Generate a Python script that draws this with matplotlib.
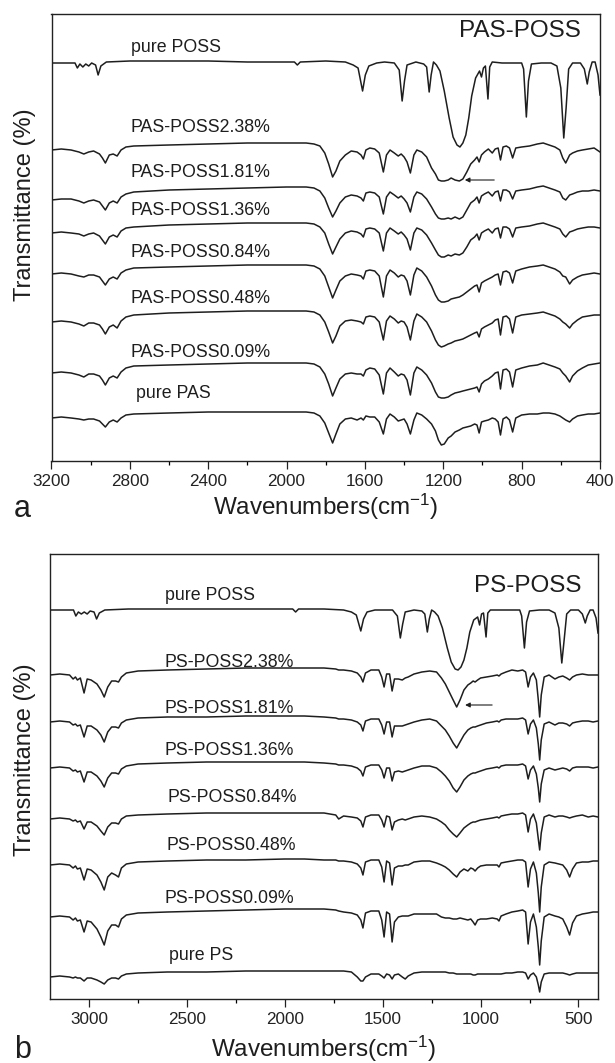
import numpy as np
import matplotlib
matplotlib.use('Agg')
import matplotlib.pyplot as plt
from matplotlib.ticker import MultipleLocator

plt.rcParams['font.family'] = ['Liberation Sans', 'DejaVu Sans']
plt.rcParams['mathtext.default'] = 'regular'

# ---- data (transmittance, px units, relative to value at 3200 cm-1) ----
poss_wn = [3200, 3120, 3080, 3068, 3055, 3040, 3025, 3010, 2995, 2975,
           2962, 2948, 2920, 2800, 2600, 2400, 2200, 2000, 1960, 1945,
           1930, 1800, 1700, 1660, 1635, 1612, 1598, 1580, 1540, 1500,
           1450, 1425, 1410, 1398, 1385, 1340, 1300, 1285, 1272, 1262,
           1250, 1235, 1217, 1195, 1170, 1150, 1130, 1115, 1100, 1085,
           1070, 1055, 1035, 1015, 1005, 995, 985, 972, 963, 950,
           900, 850, 800, 790, 776, 765, 750, 700, 650, 620,
           600, 585, 573, 560, 540, 500, 480, 465, 455, 440,
           425, 410, 400]

poss_a = [0, 0, 0, -5, -1, -4, -1, -3, 0, -2,
          -12, -3, 1, 2, 2, 2, 1, 1, 1, -2,
          1, 2, 1, -2, -5, -28, -12, -3, 0, 1,
          0, -7, -38, -18, -2, 1, -1, -4, -29, -12,
          1, -2, -8, -28, -55, -74, -82, -84, -80, -72,
          -55, -33, -15, -8, -14, -5, -3, -36, -4, 1,
          0, 0, 0, -6, -54, -18, -1, 0, 0, -3,
          -25, -75, -45, -6, 0, 0, -6, -21, -9, 1,
          1, -12, -32]

poss_b = [0, 0, 0, -6, -2, -4, -2, -4, -1, -2,
          -9, -3, 0, 1, 1, 1, 1, 1, 1, -2,
          1, 1, 0, -2, -5, -21, -9, -2, 0, 0,
          0, -6, -28, -14, -2, 0, -1, -4, -22, -9,
          0, -2, -6, -18, -38, -52, -59, -60, -57, -50,
          -38, -22, -10, -7, -15, -4, -3, -27, -3, 0,
          0, 0, 0, -6, -38, -12, -1, 0, 0, -3,
          -18, -53, -30, -4, 0, 0, -4, -13, -6, 0,
          0, -8, -23]

pas_wn = [3200, 3150, 3100, 3060, 3035, 3010, 2985, 2955, 2940, 2925,
          2905, 2885, 2865, 2845, 2820, 2780, 2600, 2400, 2200, 2000,
          1900, 1860, 1830, 1805, 1785, 1765, 1748, 1728, 1700, 1670,
          1640, 1620, 1608, 1595, 1575, 1550, 1527, 1506, 1490, 1472,
          1450, 1430, 1415, 1400, 1385, 1368, 1350, 1335, 1310, 1285,
          1260, 1240, 1225, 1210, 1195, 1175, 1160, 1140, 1118, 1100,
          1080, 1060, 1040, 1028, 1017, 1005, 990, 970, 950, 935,
          920, 908, 895, 878, 862, 846, 830, 800, 760, 720,
          690, 660, 630, 605, 590, 575, 555, 540, 515, 490,
          460, 430, 400]

pas_238 = [0, 1, 0, -2, -4, -2, -1, -4, -8, -13,
           -5, -4, -6, 0, 3, 4, 5, 6, 7, 7,
           7, 6, 4, -3, -14, -27, -21, -11, -5, -1,
           -2, -5, -9, 0, 2, 1, -3, -22, -5, 0,
           -3, -6, -4, -7, -12, -23, -5, 0, -2, -7,
           -18, -24, -30, -31, -31, -30, -28, -30, -31, -29,
           -22, -14, -10, -7, -12, -5, -2, 1, -3, 1,
           2, -10, 3, 4, 2, -8, 2, 3, 4, 6,
           7, 5, 3, 0, -8, -13, -5, -3, -1, 0,
           1, 2, -2]

pas_181 = [0, 1, 1, -1, -3, -1, 0, -2, -6, -10,
           -3, -1, -3, 3, 6, 8, 10, 11, 12, 13,
           13, 12, 9, 2, -8, -17, -11, -3, 3, 5,
           4, 2, -1, 7, 8, 7, 3, -14, 3, 8,
           5, 2, 4, 1, -3, -12, 3, 8, 6, 1,
           -7, -14, -18, -19, -19, -18, -19, -17, -19, -17,
           -10, -3, 0, 3, -3, 4, 6, 8, 4, 8,
           9, -1, 10, 10, 8, 1, 9, 10, 11, 13,
           14, 12, 10, 8, 2, 0, 5, 6, 8, 9,
           9, 10, 9]

pas_136 = [0, 1, 0, -1, -3, -1, 0, -3, -7, -11,
           -4, -2, -4, 2, 5, 6, 8, 9, 10, 10,
           10, 9, 6, 0, -11, -21, -14, -6, 0, 2,
           1, -1, -4, 4, 5, 4, 0, -18, 0, 5,
           2, -1, 1, -2, -6, -17, 0, 5, 3, -2,
           -10, -17, -22, -24, -24, -22, -23, -21, -22, -20,
           -14, -7, -4, -1, -7, 0, 2, 4, 0, 4,
           5, -5, 6, 6, 4, -4, 5, 6, 7, 9,
           10, 8, 6, 4, -1, -4, 1, 2, 4, 5,
           6, 6, 5]

pas_084 = [0, 1, 0, -2, -3, -1, -1, -3, -7, -11,
           -5, -3, -5, 1, 4, 6, 7, 8, 9, 9,
           9, 8, 5, -2, -13, -24, -16, -7, -2, 0,
           -1, -2, -5, 3, 4, 3, -2, -23, -2, 4,
           1, -3, -1, -2, -7, -21, -1, 6, 3, -3,
           -12, -21, -26, -28, -28, -27, -25, -24, -23, -21,
           -18, -15, -12, -11, -18, -9, -7, -5, -3, -1,
           0, -11, 2, 3, 1, -9, 3, 5, 7, 8,
           9, 7, 5, 2, -2, -3, -10, -6, -3, -1,
           0, 1, 0]

pas_048 = [0, 1, 0, -2, -4, -1, -1, -3, -7, -12,
           -5, -3, -6, 1, 5, 7, 9, 10, 11, 11,
           11, 10, 7, 0, -10, -21, -14, -4, 1, 2,
           1, 0, -2, 5, 6, 5, 0, -18, 1, 6,
           3, -1, 1, 0, -5, -18, 1, 8, 5, 0,
           -9, -18, -23, -25, -24, -22, -21, -19, -18, -17,
           -15, -13, -11, -10, -15, -7, -5, -3, -1, 2,
           3, -13, 5, 6, 3, -11, 5, 7, 8, 9,
           10, 8, 6, 3, 0, -2, -6, -2, 2, 5,
           6, 7, 7]

pas_009 = [0, 1, 0, -2, -4, -1, -1, -3, -7, -12,
           -5, -3, -5, 1, 5, 7, 8, 9, 10, 10,
           10, 9, 6, -1, -11, -23, -15, -6, -1, 0,
           -1, -1, -3, 3, 5, 4, -2, -21, 0, 5,
           1, -3, -1, -2, -7, -22, 0, 6, 3, -2,
           -10, -19, -24, -25, -25, -24, -22, -20, -19, -18,
           -17, -16, -15, -14, -19, -11, -8, -6, -3, 0,
           1, -16, 3, 4, 1, -14, 3, 5, 7, 8,
           10, 8, 6, 4, 0, -3, -9, -3, 2, 5,
           8, 9, 10]

pas_pure = [0, 1, 0, -1, -2, -1, -1, -3, -6, -9,
            -4, -2, -4, 0, 3, 4, 5, 6, 6, 6,
            6, 5, 2, -5, -15, -25, -16, -6, -1, 0,
            -2, 0, -2, 2, 1, 1, -4, -16, -1, 4,
            1, -3, -2, -1, -6, -16, -2, 5, 3, -1,
            -6, -13, -22, -27, -26, -20, -18, -14, -12, -10,
            -9, -8, -6, -7, -15, -4, -3, -2, 0, -1,
            -4, -17, -1, 1, -2, -14, 0, 3, 4, 4,
            5, 5, 4, 2, 0, -2, -4, -1, 2, 3,
            4, 4, 5]

ps_wn = [3200, 3150, 3100, 3082, 3070, 3060, 3045, 3026, 3010, 2990,
         2960, 2940, 2923, 2905, 2885, 2865, 2850, 2835, 2810, 2750,
         2600, 2400, 2200, 2000, 1900, 1800, 1740, 1725, 1700, 1660,
         1630, 1612, 1601, 1588, 1560, 1520, 1505, 1493, 1480, 1465,
         1452, 1440, 1420, 1400, 1385, 1370, 1340, 1300, 1260, 1225,
         1200, 1180, 1160, 1140, 1122, 1105, 1085, 1065, 1050, 1038,
         1028, 1015, 1000, 970, 940, 915, 906, 895, 870, 840,
         810, 785, 770, 757, 745, 730, 715, 705, 698, 690,
         675, 650, 620, 600, 580, 560, 545, 530, 510, 480,
         450, 425, 400]

ps_238 = [0, 1, 0, -4, -2, -5, -3, -18, -4, -5,
          -9, -15, -22, -12, -6, -6, -7, -2, 2, 4,
          5, 6, 7, 7, 7, 7, 6, 5, 5, 4,
          2, -2, -7, 2, 5, 5, -2, -12, 1, 1,
          -16, -4, -4, -5, -3, -2, 1, 3, 4, 3,
          -3, -9, -17, -25, -32, -25, -15, -10, -8, -6,
          -7, -5, -3, -2, -1, 0, -1, 1, 3, 5,
          4, 5, 3, -12, -2, 2, -5, -25, -42, -20,
          -2, 0, -4, -2, -1, -3, -5, -2, 0, 1,
          0, 0, 0]

ps_181 = [0, 1, 0, -3, -2, -4, -3, -15, -4, -4,
          -8, -13, -20, -10, -5, -5, -6, -1, 2, 4,
          5, 5, 6, 6, 6, 5, 4, 3, 3, 2,
          0, -3, -9, 1, 3, 3, -3, -12, 0, 0,
          -15, -4, -4, -4, -3, -2, 0, 2, 3, 1,
          -4, -8, -14, -21, -26, -20, -13, -8, -6, -5,
          -5, -4, -3, -1, 0, 1, 0, 2, 3, 3,
          3, 4, 2, -12, -2, 2, -6, -22, -38, -18,
          -2, 0, -3, -1, -1, -2, -4, -1, 0, 1,
          1, 0, 1]

ps_136 = [0, 1, 0, -3, -2, -4, -3, -14, -4, -4,
          -8, -13, -19, -10, -5, -5, -6, -1, 2, 4,
          5, 6, 6, 6, 6, 5, 4, 3, 3, 2,
          0, -3, -8, 1, 3, 3, -2, -10, 0, 0,
          -13, -4, -3, -4, -3, -2, 0, 2, 2, 0,
          -4, -8, -13, -20, -24, -19, -12, -8, -6, -5,
          -5, -4, -3, -1, 0, 1, 0, 2, 3, 3,
          3, 4, 2, -11, -2, 2, -6, -20, -34, -16,
          -2, 0, -2, -1, 0, -1, -3, 0, 1, 1,
          1, 0, 1]

ps_084 = [0, 1, 0, -2, -1, -3, -2, -10, -3, -3,
          -7, -12, -16, -8, -4, -4, -5, 0, 3, 4,
          5, 6, 6, 6, 6, 6, 4, 0, 3, 2,
          1, -2, -8, 2, 4, 4, -1, -8, 3, 2,
          -11, -3, -1, 0, -1, 0, 2, 3, 2, 0,
          -3, -6, -11, -15, -18, -14, -9, -6, -4, -3,
          -3, -2, -1, 0, 1, 2, 1, 3, 4, 5,
          5, 6, 4, -13, 0, 5, -4, -20, -31, -14,
          2, 4, 2, 3, 3, 2, 1, 2, 3, 4,
          2, 3, 2]

ps_048 = [0, 1, 0, -3, -1, -4, -3, -15, -4, -5,
          -10, -17, -25, -12, -8, -10, -12, -3, 1, 3,
          4, 5, 5, 6, 6, 5, 5, 4, 4, 3,
          1, -3, -10, 3, 5, 5, -2, -17, 4, 2,
          -20, -3, -1, -1, 0, 0, 3, 4, 4, 2,
          0, -2, -5, -9, -12, -7, -4, -6, -3, -4,
          -6, -3, -1, 0, 0, 0, -2, 2, 3, 4,
          5, 5, 3, -22, -4, 3, -8, -28, -47, -22,
          0, 3, 2, 1, 0, -5, -12, -4, 2, 3,
          3, 4, 4]

ps_009 = [0, 1, 0, -3, -1, -4, -3, -15, -4, -5,
          -12, -20, -28, -14, -8, -8, -10, -2, 2, 4,
          5, 6, 7, 8, 8, 8, 7, 6, 5, 4,
          2, -3, -11, 4, 6, 6, -3, -20, 5, 3,
          -25, -5, 0, 1, 1, 1, 3, 3, 3, 3,
          0, -1, -1, -2, -2, -1, -2, -3, -2, -5,
          -8, -3, -2, -2, -1, -2, -4, 1, 3, 5,
          6, 7, 5, -27, -5, 3, -10, -30, -48, -24,
          0, 3, 1, 0, -2, -10, -18, -6, 1, 3,
          4, 5, 5]

ps_pure = [0, 1, 0, -1, 0, -1, -1, -4, -1, -1,
           -3, -5, -7, -3, -1, -1, -2, 1, 3, 4,
           5, 5, 6, 6, 6, 6, 6, 6, 6, 5,
           0, -4, -4, 0, 3, 3, 1, -1, 3, 2,
           -2, 2, 3, 0, -2, 1, 4, 5, 5, 5,
           5, 5, 4, 4, 3, 3, 3, 3, 3, 2,
           2, 3, 3, 3, 3, 3, 3, 3, 4, 4,
           5, 5, 4, -2, 2, 4, 0, -8, -15, -5,
           3, 4, 4, 4, 4, 3, 2, 3, 4, 4,
           4, 4, 4]

labels_a = ['pure POSS', 'PAS-POSS2.38%', 'PAS-POSS1.81%', 'PAS-POSS1.36%',
            'PAS-POSS0.84%', 'PAS-POSS0.48%', 'PAS-POSS0.09%', 'pure PAS']
labels_b = ['pure POSS', 'PS-POSS2.38%', 'PS-POSS1.81%', 'PS-POSS1.36%',
            'PS-POSS0.84%', 'PS-POSS0.48%', 'PS-POSS0.09%', 'pure PS']

# ---- layout (pixel based) ----
W, H = 615, 1063
fig = plt.figure(figsize=(W / 100, H / 100), dpi=100)


def px_axes(l, t, r, b):
    return fig.add_axes([l / W, 1 - b / H, (r - l) / W, (b - t) / H])


ax_a = px_axes(51.5, 14, 600, 461)
ax_b = px_axes(50, 554, 598, 999)

curves_a = [(poss_wn, poss_a), (pas_wn, pas_238), (pas_wn, pas_181), (pas_wn, pas_136),
            (pas_wn, pas_084), (pas_wn, pas_048), (pas_wn, pas_009), (pas_wn, pas_pure)]
curves_b = [(poss_wn, poss_b), (ps_wn, ps_238), (ps_wn, ps_181), (ps_wn, ps_136),
            (ps_wn, ps_084), (ps_wn, ps_048), (ps_wn, ps_009), (ps_wn, ps_pure)]

offsets_a = [398, 311, 261, 228, 187, 139, 88, 43]
offsets_b = [389, 324, 277, 231, 180, 134, 82, 22]
label_y_a = [409, 329, 284, 246, 204, 158, 104, 63]
label_y_b = [399, 332, 286, 244, 197, 149, 96, 39]
label_x_a = [2795] * 7 + [2769]
label_x_b = [2612, 2614, 2614, 2614, 2598, 2606, 2614, 2594]

ink = '#1e1e1e'

for ax, curves, offs, lx, ly, labels, ytop in [
        (ax_a, curves_a, offsets_a, label_x_a, label_y_a, labels_a, 447),
        (ax_b, curves_b, offsets_b, label_x_b, label_y_b, labels_b, 445)]:
    for (wn, vals), off in zip(curves, offs):
        ax.plot(wn, np.array(vals) + off, color=ink, lw=1.1)
    for x, y, s in zip(lx, ly, labels):
        ax.text(x, y, s, fontsize=12.8, va='baseline', ha='left', color=ink)
    ax.set_xlim(3200, 400)
    ax.set_ylim(0, ytop)
    ax.set_yticks([])
    for sp in ax.spines.values():
        sp.set_linewidth(1.0)
        sp.set_color('#222222')
    ax.tick_params(axis='x', which='major', direction='out', length=5.5,
                   width=0.9, labelsize=12.3, pad=3.5, colors='#222222')
    ax.tick_params(axis='x', which='minor', direction='out', length=3, width=0.9)

ax_a.xaxis.set_major_locator(MultipleLocator(400))
ax_a.xaxis.set_minor_locator(MultipleLocator(200))
ax_b.xaxis.set_major_locator(MultipleLocator(500))
ax_b.xaxis.set_minor_locator(MultipleLocator(250))

ax_a.text(1120, 424, 'PAS-POSS', fontsize=17.5, va='baseline', color=ink)
ax_b.text(1033, 407, 'PS-POSS', fontsize=17.5, va='baseline', color=ink)

# arrows marking the Si-O-Si band
arrow_a = (940, 1090, 281)
arrow_b = (941, 1079, 294)
for ax, (x0, x1, y) in [(ax_a, arrow_a), (ax_b, arrow_b)]:
    ax.annotate('', xy=(x1, y), xytext=(x0, y),
                arrowprops=dict(arrowstyle='-|>', color=ink, lw=0.8,
                                mutation_scale=7, shrinkA=0, shrinkB=0))

fig.text(25 / W, 1 - 205 / H, 'Transmittance (%)', rotation=90,
         ha='center', va='center', fontsize=17, color=ink)
fig.text(25 / W, 1 - 760 / H, 'Transmittance (%)', rotation=90,
         ha='center', va='center', fontsize=17, color=ink)
fig.text(325.75 / W, 1 - 515 / H, 'Wavenumbers(cm$^{-1}$)', ha='center',
         va='baseline', fontsize=17.5, color=ink)
fig.text(324 / W, 1 - 1057 / H, 'Wavenumbers(cm$^{-1}$)', ha='center',
         va='baseline', fontsize=17.5, color=ink)
fig.text(14 / W, 1 - 517 / H, 'a', fontsize=22, va='baseline', color=ink)
fig.text(14 / W, 1 - 1058 / H, 'b', fontsize=22, va='baseline', color=ink)

fig.savefig('out.png', dpi=100)
